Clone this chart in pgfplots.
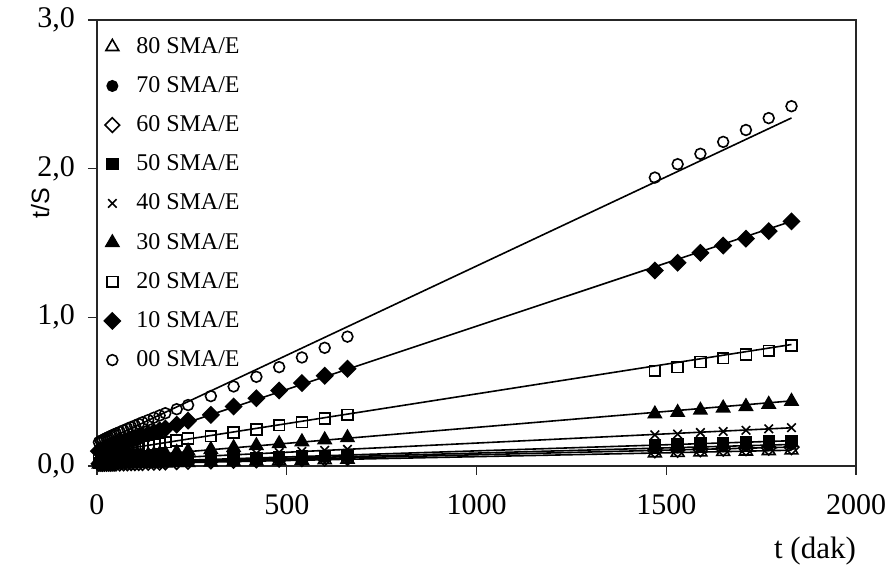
\documentclass[border=0pt]{standalone}
\usepackage{pgfplots}
\pgfplotsset{compat=1.18}
\usepackage{pgfplotstable}
\usepackage{fontspec}
\setmainfont{Liberation Serif}
\newfontfamily\arialfont{Liberation Sans}

% t (dak) and t/S for each SMA/E ratio
\pgfplotstableread{
t    s00   s10   s20   s30   s40   s50   s70   s60   s80
5    0.160 0.100 0.070 0.042 0.031 0.021 0.018 0.015 0.012
10   0.168 0.105 0.074 0.043 0.032 0.021 0.018 0.015 0.012
15   0.175 0.110 0.077 0.045 0.032 0.022 0.018 0.015 0.012
20   0.181 0.115 0.080 0.046 0.033 0.022 0.019 0.016 0.012
25   0.188 0.120 0.083 0.047 0.034 0.023 0.019 0.016 0.013
30   0.194 0.125 0.086 0.048 0.034 0.023 0.019 0.016 0.013
35   0.200 0.130 0.088 0.050 0.035 0.024 0.020 0.016 0.013
40   0.206 0.134 0.091 0.051 0.036 0.024 0.020 0.017 0.013
45   0.212 0.139 0.093 0.052 0.036 0.025 0.020 0.017 0.014
50   0.218 0.143 0.095 0.053 0.037 0.025 0.021 0.017 0.014
60   0.229 0.152 0.100 0.056 0.038 0.026 0.021 0.018 0.014
70   0.240 0.161 0.105 0.058 0.040 0.027 0.022 0.018 0.015
80   0.251 0.170 0.110 0.061 0.041 0.028 0.023 0.019 0.015
90   0.262 0.178 0.115 0.063 0.043 0.029 0.023 0.020 0.016
100  0.272 0.187 0.120 0.066 0.044 0.030 0.024 0.020 0.016
110  0.283 0.195 0.125 0.068 0.045 0.031 0.025 0.021 0.017
120  0.294 0.203 0.130 0.071 0.047 0.032 0.026 0.021 0.017
135  0.309 0.215 0.137 0.074 0.049 0.033 0.027 0.022 0.018
150  0.325 0.228 0.145 0.078 0.051 0.034 0.028 0.023 0.019
165  0.340 0.240 0.152 0.081 0.053 0.035 0.029 0.024 0.020
180  0.355 0.252 0.160 0.085 0.055 0.036 0.030 0.025 0.020
210  0.382 0.278 0.172 0.092 0.059 0.039 0.032 0.027 0.022
240  0.410 0.305 0.185 0.100 0.064 0.041 0.034 0.029 0.023
300  0.470 0.344 0.200 0.110 0.070 0.045 0.038 0.032 0.026
360  0.535 0.400 0.225 0.123 0.077 0.050 0.042 0.036 0.029
420  0.600 0.456 0.245 0.137 0.084 0.055 0.046 0.039 0.032
480  0.665 0.508 0.275 0.150 0.091 0.060 0.050 0.043 0.035
540  0.730 0.558 0.295 0.163 0.098 0.064 0.055 0.047 0.038
600  0.795 0.607 0.320 0.176 0.105 0.069 0.059 0.050 0.041
660  0.870 0.654 0.345 0.190 0.112 0.074 0.063 0.054 0.045
1470 1.940 1.315 0.640 0.350 0.210 0.140 0.120 0.105 0.087
1530 2.030 1.367 0.665 0.360 0.215 0.145 0.124 0.109 0.090
1590 2.100 1.434 0.700 0.375 0.225 0.150 0.128 0.113 0.093
1650 2.180 1.483 0.725 0.390 0.232 0.155 0.132 0.117 0.096
1710 2.260 1.529 0.750 0.400 0.240 0.160 0.137 0.120 0.099
1770 2.340 1.580 0.775 0.415 0.250 0.165 0.141 0.123 0.102
1830 2.420 1.645 0.810 0.435 0.258 0.170 0.145 0.127 0.106
}\swelldata

\begin{document}
\begin{tikzpicture}
\begin{axis}[
    name=ax,
    scale only axis,
    width=379.5pt, height=223pt,
    xmin=0, xmax=2000, ymin=0, ymax=3,
    xtick={0,500,1000,1500,2000},
    ytick={0,1,2,3},
    tick align=outside, tick pos=left,
    major tick length=4.5pt,
    axis line style={black!85, line width=0.6pt},
    tick style={black!85, line width=0.6pt},
    /pgf/number format/assume math mode=true,
    ticklabel style={font=\fontsize{15}{17}\selectfont},
    x tick label style={/pgf/number format/1000 sep={}, yshift=-6pt},
    y tick label style={/pgf/number format/.cd, fixed, fixed zerofill, precision=1, use comma, /tikz/.cd, xshift=-3pt},
    xlabel={t (dak)},
    xlabel style={font=\fontsize{15.5}{17}\selectfont, at={(axis description cs:0.946,-0.19)}, anchor=center},
    ylabel={t/S},
    ylabel style={font=\arialfont\fontsize{12.5}{14}\selectfont, at={(axis description cs:-0.075,0.59)}, anchor=center, rotate=0},
    legend style={at={(axis description cs:0.004,0.98)}, anchor=north west, draw=none, fill=none,
        font=\fontsize{12}{14}\selectfont, row sep=6.1pt, inner sep=2pt,
        /tikz/every odd column/.append style={column sep=6pt}},
    legend cell align=left,
    every axis plot/.append style={line width=0.8pt},
]
\addplot[only marks, mark=triangle, mark size=3.7pt, mark options={fill=white}] table[x=t,y=s80] {\swelldata};
\addlegendentry{80 SMA/E}
\addplot[only marks, mark=*, mark size=2.6pt] table[x=t,y=s70] {\swelldata};
\addlegendentry{70 SMA/E}
\addplot[only marks, mark=square, mark size=2.6pt, mark options={rotate=45, fill=white}] table[x=t,y=s60] {\swelldata};
\addlegendentry{60 SMA/E}
\addplot[only marks, mark=square*, mark size=2.7pt] table[x=t,y=s50] {\swelldata};
\addlegendentry{50 SMA/E}
\addplot[only marks, mark=x, mark size=3pt] table[x=t,y=s40] {\swelldata};
\addlegendentry{40 SMA/E}
\addplot[only marks, mark=triangle*, mark size=3.7pt] table[x=t,y=s30] {\swelldata};
\addlegendentry{30 SMA/E}
\addplot[only marks, mark=square, mark size=2.7pt, mark options={fill=white}] table[x=t,y=s20] {\swelldata};
\addlegendentry{20 SMA/E}
\addplot[only marks, mark=square*, mark size=2.8pt, mark options={rotate=45}] table[x=t,y=s10] {\swelldata};
\addlegendentry{10 SMA/E}
\addplot[only marks, mark=o, mark size=2.7pt, mark options={fill=white}] table[x=t,y=s00] {\swelldata};
\addlegendentry{00 SMA/E}

% linear fits
\addplot[forget plot, no marks, line width=0.8pt] coordinates {(5,0.011) (1830,0.106)};
\addplot[forget plot, no marks, line width=0.8pt] coordinates {(5,0.017) (1830,0.145)};
\addplot[forget plot, no marks, line width=0.8pt] coordinates {(5,0.014) (1830,0.127)};
\addplot[forget plot, no marks, line width=0.8pt] coordinates {(5,0.020) (1830,0.170)};
\addplot[forget plot, no marks, line width=0.8pt] coordinates {(5,0.031) (1830,0.257)};
\addplot[forget plot, no marks, line width=0.8pt] coordinates {(5,0.046) (1830,0.438)};
\addplot[forget plot, no marks, line width=0.8pt] coordinates {(5,0.087) (1830,0.817)};
\addplot[forget plot, no marks, line width=0.8pt] coordinates {(5,0.094) (1830,1.646)};
\addplot[forget plot, no marks, line width=0.8pt] coordinates {(5,0.151) (1830,2.341)};
\end{axis}
\pgfresetboundingbox
\path (ax.south west) ++(-48.5pt,-55pt) rectangle ([shift={(15.5pt,10pt)}]ax.north east);
\end{tikzpicture}
\end{document}
